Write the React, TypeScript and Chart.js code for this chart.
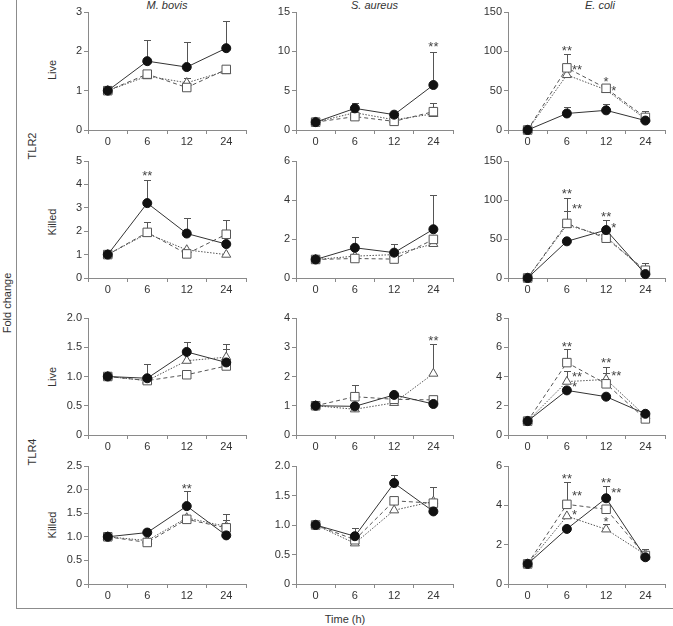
import React, { useEffect, useRef } from 'react';
import { Chart, registerables } from 'chart.js';
Chart.register(...registerables);

const timeLabels = ['0', '6', '12', '24'];
const pathogenNames = ['M. bovis', 'S. aureus', 'E. coli'];
const receptorNames = ['TLR2', 'TLR4'];
const rowConditions = ['Live', 'Killed', 'Live', 'Killed'];
const xAxisTitle = 'Time (h)';
const yAxisTitle = 'Fold change';

// y axis maximum / step per panel (rows x columns)
const yMaxByRow = [[3, 15, 150], [5, 6, 150], [2, 4, 8], [2.5, 2, 6]];
const yStepByRow = [[1, 5, 50], [1, 2, 50], [0.5, 1, 2], [0.5, 0.5, 2]];

// series order in each panel: [filled circle, open square, open triangle]
// *Err = upper end of the error bar (null = none visible)
// *Sig = [time index, value, text, 'c' centred | 'r' right of point]
const tlr2LiveBovis = [[1, 1.75, 1.6, 2.08], [1, 1.42, 1.08, 1.54], [1, 1.37, 1.2, 1.5]];
const tlr2LiveBovisErr = [[null, 2.28, 2.23, 2.78], [null, 1.5, null, 1.62], [null, null, 1.33, null]];
const tlr2LiveBovisSig: any[] = [];

const tlr2LiveAureus = [[1, 2.75, 1.95, 5.72], [1, 1.7, 1.1, 2.33], [1, 2.2, 1.3, 2.05]];
const tlr2LiveAureusErr = [[null, 3.45, null, 9.95], [null, null, null, 3.45], [null, null, null, null]];
const tlr2LiveAureusSig = [[3, 10.9, '**', 'c']];

const tlr2LiveColi = [[0, 21, 25, 12], [0, 79, 53, 16], [0, 70, 51, 14]];
const tlr2LiveColiErr = [[null, 29.5, 32.5, null], [null, 97, null, 24], [null, null, null, null]];
const tlr2LiveColiSig = [[1, 104, '**', 'c'], [1, 79, '**', 'r'], [2, 64, '*', 'c'], [2, 53, '*', 'r']];

const tlr2KilledBovis = [[1, 3.2, 1.9, 1.45], [1, 1.95, 1.03, 1.87], [1, 1.9, 1.2, 1.0]];
const tlr2KilledBovisErr = [[null, 4.2, 2.55, null], [null, 2.38, null, 2.48], [null, null, null, null]];
const tlr2KilledBovisSig = [[1, 4.47, '**', 'c']];

const tlr2KilledAureus = [[0.95, 1.55, 1.3, 2.5], [0.95, 1.0, 0.97, 1.98], [0.95, 1.12, 1.2, 1.75]];
const tlr2KilledAureusErr = [[null, 2.12, 1.73, 4.28], [null, null, null, null], [null, null, null, null]];
const tlr2KilledAureusSig: any[] = [];

const tlr2KilledColi = [[0, 47, 61.5, 5], [0, 70, 51, 10], [0, 68, 53, 8]];
const tlr2KilledColiErr = [[null, null, 74, null], [null, 103, null, 19], [null, 86, null, null]];
const tlr2KilledColiSig = [[1, 111.5, '**', 'c'], [1, 92, '**', 'r'], [2, 81, '**', 'c'], [2, 68, '*', 'r']];

const tlr4LiveBovis = [[1, 0.97, 1.42, 1.24], [1, 0.93, 1.03, 1.18], [1, 0.93, 1.27, 1.33]];
const tlr4LiveBovisErr = [[null, 1.21, 1.59, 1.47], [null, null, null, null], [null, null, null, 1.55]];
const tlr4LiveBovisSig: any[] = [];

const tlr4LiveAureus = [[1, 0.98, 1.37, 1.06], [1, 1.31, 1.22, 1.2], [1, 0.88, 1.1, 2.1]];
const tlr4LiveAureusErr = [[null, null, null, null], [null, 1.7, null, null], [null, null, null, 3.12]];
const tlr4LiveAureusSig = [[3, 3.31, '**', 'c']];

const tlr4LiveColi = [[0.95, 3.05, 2.62, 1.45], [0.95, 4.95, 3.5, 1.1], [0.95, 3.65, 3.8, 1.3]];
const tlr4LiveColiErr = [[null, null, null, null], [null, 5.85, 4.65, null], [null, 4.4, 4.25, null]];
const tlr4LiveColiSig = [[1, 6.2, '**', 'c'], [1, 4.15, '**', 'r'], [1, 3.47, '*', 'r'], [2, 5.07, '**', 'c'], [2, 4.22, '**', 'r']];

const tlr4KilledBovis = [[1, 1.09, 1.65, 1.03], [1, 0.88, 1.37, 1.19], [1, 0.92, 1.4, 1.22]];
const tlr4KilledBovisErr = [[null, null, 1.97, null], [null, null, null, 1.48], [null, null, null, 1.35]];
const tlr4KilledBovisSig = [[2, 2.06, '**', 'c']];

const tlr4KilledAureus = [[1, 0.81, 1.71, 1.23], [1, 0.75, 1.41, 1.37], [1, 0.69, 1.25, 1.4]];
const tlr4KilledAureusErr = [[null, 0.95, 1.85, null], [null, null, null, 1.64], [null, null, null, null]];
const tlr4KilledAureusSig: any[] = [];

const tlr4KilledColi = [[1.02, 2.8, 4.36, 1.36], [1.02, 4.05, 3.8, 1.45], [1.02, 3.45, 2.78, 1.5]];
const tlr4KilledColiErr = [[null, null, 4.98, null], [null, 5.2, null, 1.8], [null, null, 3.03, null]];
const tlr4KilledColiSig = [[1, 5.49, '**', 'c'], [1, 4.61, '**', 'r'], [1, 3.65, '*', 'r'], [2, 5.25, '**', 'c'], [2, 4.78, '**', 'r'], [2, 3.29, '*', 'c']];

const panelMeans = [
  [tlr2LiveBovis, tlr2LiveAureus, tlr2LiveColi],
  [tlr2KilledBovis, tlr2KilledAureus, tlr2KilledColi],
  [tlr4LiveBovis, tlr4LiveAureus, tlr4LiveColi],
  [tlr4KilledBovis, tlr4KilledAureus, tlr4KilledColi],
];
const panelErrs = [
  [tlr2LiveBovisErr, tlr2LiveAureusErr, tlr2LiveColiErr],
  [tlr2KilledBovisErr, tlr2KilledAureusErr, tlr2KilledColiErr],
  [tlr4LiveBovisErr, tlr4LiveAureusErr, tlr4LiveColiErr],
  [tlr4KilledBovisErr, tlr4KilledAureusErr, tlr4KilledColiErr],
];
const panelSigs = [
  [tlr2LiveBovisSig, tlr2LiveAureusSig, tlr2LiveColiSig],
  [tlr2KilledBovisSig, tlr2KilledAureusSig, tlr2KilledColiSig],
  [tlr4LiveBovisSig, tlr4LiveAureusSig, tlr4LiveColiSig],
  [tlr4KilledBovisSig, tlr4KilledAureusSig, tlr4KilledColiSig],
];

// layout
const COL_LEFT = [88, 296, 508];
const COL_W = [158, 157, 157];
const ROW_TOP = [12, 161, 318, 466];
const ROW_H = [118, 117, 117, 118];
const TITLE_X = [167, 374.5, 600];
const COND_Y = [70, 222, 376.5, 525];
const RECEPTOR_Y = [146, 452];
const PADL = 40, PADT = 10, PADR = 12, PADB = 24;
const FONT = '"Liberation Sans", Arial, sans-serif';
const AXIS = '#8a8a8a';
const TXT = '#333';

function Panel({ means, errs, sigs, yMax, yStep, left, top, w, h }: any) {
  const ref = useRef<HTMLCanvasElement>(null);
  useEffect(() => {
    const canvas = ref.current!;
    const decimals = yStep < 1 ? 1 : 0;
    const extras = {
      id: 'extras',
      beforeDatasetsDraw(chart: any) {
        const ctx = chart.ctx;
        const ys = chart.scales.y;
        ctx.save();
        ctx.strokeStyle = '#555';
        ctx.lineWidth = 1;
        errs.forEach((arr: any[], di: number) => {
          const meta = chart.getDatasetMeta(di);
          arr.forEach((e, i) => {
            if (e == null) return;
            const pt = meta.data[i];
            const x = Math.round(pt.x) + 0.5;
            const y1 = Math.round(ys.getPixelForValue(e)) + 0.5;
            ctx.beginPath();
            ctx.moveTo(x, pt.y);
            ctx.lineTo(x, y1);
            ctx.moveTo(x - 3.5, y1);
            ctx.lineTo(x + 3.5, y1);
            ctx.stroke();
          });
        });
        ctx.restore();
      },
      afterDatasetsDraw(chart: any) {
        const ctx = chart.ctx;
        const xs = chart.scales.x;
        const ys = chart.scales.y;
        ctx.save();
        ctx.fillStyle = '#444';
        ctx.font = `13px ${FONT}`;
        ctx.textBaseline = 'middle';
        sigs.forEach((s: any[]) => {
          const [i, v, t, p] = s;
          const x = xs.getPixelForValue(i);
          const y = ys.getPixelForValue(v) + 3;
          if (p === 'r') {
            ctx.textAlign = 'left';
            ctx.fillText(t, x + 5, y);
          } else {
            ctx.textAlign = 'center';
            ctx.fillText(t, x, y);
          }
        });
        ctx.restore();
      },
    };
    const chart = new Chart(canvas, {
      type: 'line',
      data: {
        labels: timeLabels,
        datasets: [
          {
            data: means[0], borderColor: '#333', borderWidth: 1, pointStyle: 'circle', pointRadius: 4.5,
            pointBackgroundColor: '#111', pointBorderColor: '#111', pointBorderWidth: 1, tension: 0, clip: false,
          },
          {
            data: means[1], borderColor: '#555', borderWidth: 1, borderDash: [4, 3], pointStyle: 'rect', pointRadius: 6,
            pointBackgroundColor: '#fff', pointBorderColor: '#555', pointBorderWidth: 1, tension: 0, clip: false,
          },
          {
            data: means[2], borderColor: '#555', borderWidth: 1, borderDash: [1.5, 1.5], pointStyle: 'triangle', pointRadius: 5.2,
            pointBackgroundColor: '#fff', pointBorderColor: '#555', pointBorderWidth: 1, tension: 0, clip: false,
          },
        ] as any,
      },
      options: {
        animation: false,
        responsive: false,
        devicePixelRatio: 1,
        events: [],
        layout: { padding: { top: PADT, right: PADR, left: 0, bottom: 0 } },
        plugins: { legend: { display: false }, tooltip: { enabled: false } },
        scales: {
          x: {
            type: 'category',
            offset: true,
            grid: { offset: true, drawOnChartArea: false, drawTicks: true, tickLength: 4, color: AXIS, lineWidth: 1 },
            border: { display: true, color: AXIS, width: 1 },
            ticks: { color: TXT, font: { family: FONT, size: 11 }, padding: 1, maxRotation: 0, autoSkip: false },
            afterFit: (s: any) => { s.height = PADB; },
          },
          y: {
            min: 0,
            max: yMax,
            grid: { drawOnChartArea: false, drawTicks: true, tickLength: 4, color: AXIS, lineWidth: 1 },
            border: { display: true, color: AXIS, width: 1 },
            ticks: {
              stepSize: yStep,
              color: TXT,
              font: { family: FONT, size: 11 },
              padding: 2,
              callback: (v: any) => (Number(v) === 0 ? '0' : Number(v).toFixed(decimals)),
            },
            afterFit: (s: any) => { s.width = PADL; },
          },
        },
      } as any,
      plugins: [extras],
    });
    return () => chart.destroy();
  }, []);
  const cw = PADL + w + PADR;
  const ch = PADT + h + PADB;
  return (
    <canvas
      ref={ref}
      width={cw}
      height={ch}
      style={{ position: 'absolute', left: left - PADL, top: top - PADT, width: cw, height: ch }}
    />
  );
}

const textBase: any = { position: 'absolute', whiteSpace: 'nowrap', fontFamily: FONT, fontSize: 11, lineHeight: '11px', color: TXT };

function HText({ text, cx, cy, italic }: any) {
  return (
    <div style={{ ...textBase, left: cx, top: cy, transform: 'translate(-50%,-50%)', fontStyle: italic ? 'italic' : 'normal' }}>{text}</div>
  );
}
function VText({ text, cx, cy }: any) {
  return <div style={{ ...textBase, left: cx, top: cy, transform: 'translate(-50%,-50%) rotate(-90deg)' }}>{text}</div>;
}

export default function App() {
  return (
    <div style={{ position: 'absolute', left: 0, top: 0, width: 673, height: 626, background: '#fff', overflow: 'hidden' }}>
      <div style={{ position: 'absolute', left: 16, top: 0, width: 1, height: 608, background: '#8c8c8c' }} />
      <div style={{ position: 'absolute', left: 16, top: 608, width: 657, height: 1, background: '#8c8c8c' }} />
      {pathogenNames.map((p, c) => (
        <HText key={p} text={p} cx={TITLE_X[c]} cy={4.7} italic />
      ))}
      <VText text={yAxisTitle} cx={6.5} cy={303} />
      {receptorNames.map((r, i) => (
        <VText key={r} text={r} cx={31.7} cy={RECEPTOR_Y[i]} />
      ))}
      {rowConditions.map((c, i) => (
        <VText key={i} text={c} cx={52.2} cy={COND_Y[i]} />
      ))}
      <HText text={xAxisTitle} cx={345} cy={619} />
      {panelMeans.map((row, r) =>
        row.map((m, c) => (
          <Panel
            key={`${r}-${c}`}
            means={m}
            errs={panelErrs[r][c]}
            sigs={panelSigs[r][c]}
            yMax={yMaxByRow[r][c]}
            yStep={yStepByRow[r][c]}
            left={COL_LEFT[c]}
            top={ROW_TOP[r]}
            w={COL_W[c]}
            h={ROW_H[r]}
          />
        ))
      )}
    </div>
  );
}
